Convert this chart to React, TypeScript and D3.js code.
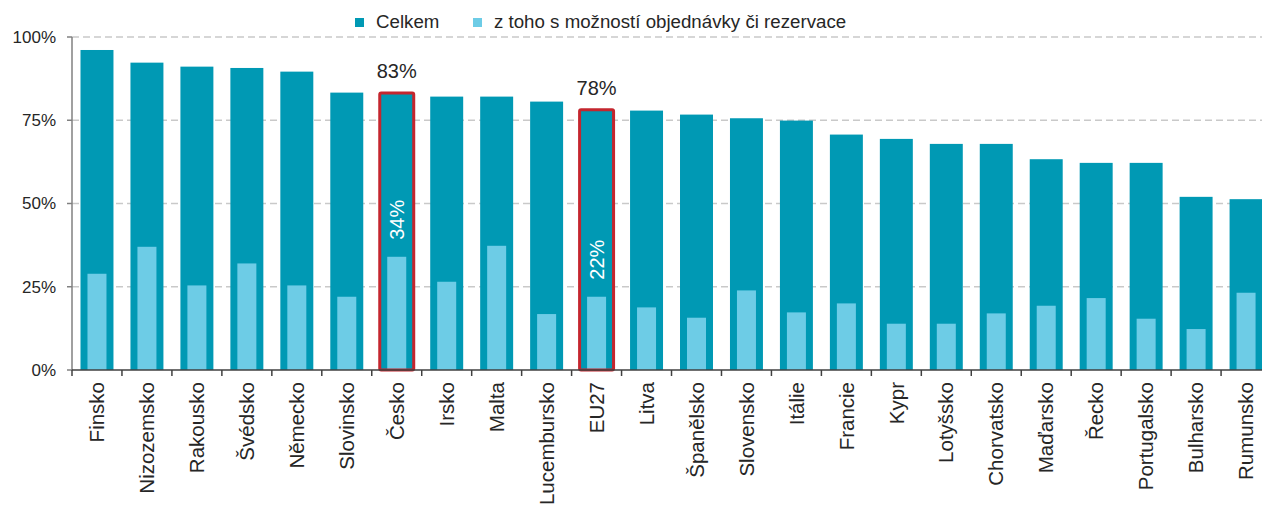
import React, { useEffect, useRef } from 'react';
import * as d3 from 'd3';

const countries = ['Finsko', 'Nizozemsko', 'Rakousko', 'Švédsko', 'Německo', 'Slovinsko', 'Česko', 'Irsko', 'Malta', 'Lucembursko', 'EU27', 'Litva', 'Španělsko', 'Slovensko', 'Itálie', 'Francie', 'Kypr', 'Lotyšsko', 'Chorvatsko', 'Maďarsko', 'Řecko', 'Portugalsko', 'Bulharsko', 'Rumunsko'];
const celkem = [96.1, 92.3, 91.1, 90.7, 89.6, 83.3, 83, 82.1, 82.1, 80.6, 78, 77.9, 76.7, 75.6, 74.9, 70.7, 69.4, 67.9, 67.9, 63.3, 62.2, 62.2, 52.0, 51.3];
const rezervace = [28.9, 37.0, 25.4, 32.0, 25.4, 22.0, 34, 26.5, 37.3, 16.8, 22, 18.8, 15.7, 23.9, 17.3, 20.0, 13.9, 13.9, 17.0, 19.3, 21.6, 15.4, 12.3, 23.2];
const highlighted = ['Česko', 'EU27'];
const yTicks = [0, 25, 50, 75, 100];
const seriesNames = ['Celkem', 'z toho s možností objednávky či rezervace'];

const dark = '#0099b4';
const light = '#6dcce6';
const red = '#c4262e';
const font = '"Liberation Sans", Arial, sans-serif';

export default function App() {
  const ref = useRef<SVGSVGElement>(null);

  useEffect(() => {
    const width = 1262, height = 509;
    const margin = { top: 37, left: 72, bottom: 139 };
    const step = 49.96;

    const svg = d3.select(ref.current);
    svg.selectAll('*').remove();
    svg.attr('width', width).attr('height', height);

    const data = countries.map((name, i) => ({ name, total: celkem[i], sub: rezervace[i] }));

    const x = d3.scaleBand()
      .domain(countries)
      .range([margin.left, margin.left + step * countries.length])
      .paddingInner(0.34)
      .paddingOuter(0.17);
    const y = d3.scaleLinear().domain([0, 100]).range([height - margin.bottom, margin.top]);
    const x0 = margin.left, y0 = y(0);

    // gridlines
    svg.append('g')
      .selectAll('line')
      .data(yTicks.filter(d => d > 0))
      .enter().append('line')
      .attr('x1', x0).attr('x2', width)
      .attr('y1', d => y(d)).attr('y2', d => y(d))
      .attr('stroke', '#c9c9c9')
      .attr('stroke-width', 1.5)
      .attr('stroke-dasharray', '7,4');

    // bars
    const bw = x.bandwidth();
    const ib = 19;
    svg.append('g').selectAll('rect')
      .data(data).enter().append('rect')
      .attr('x', d => x(d.name)!)
      .attr('y', d => y(d.total))
      .attr('width', bw)
      .attr('height', d => y0 - y(d.total))
      .attr('fill', dark);

    svg.append('g').selectAll('rect')
      .data(data).enter().append('rect')
      .attr('x', d => x(d.name)! + (bw - ib) / 2)
      .attr('y', d => y(d.sub))
      .attr('width', ib)
      .attr('height', d => y0 - y(d.sub))
      .attr('fill', light);

    // highlighted bars
    const hi = data.filter(d => highlighted.includes(d.name));
    const hg = svg.append('g');
    hg.selectAll('rect')
      .data(hi).enter().append('rect')
      .attr('x', d => x(d.name)! - 0.5)
      .attr('y', d => y(d.total) - 0.5)
      .attr('width', bw + 1)
      .attr('height', d => y0 - y(d.total) + 0.5)
      .attr('rx', 1.5)
      .attr('fill', 'none')
      .attr('stroke', red)
      .attr('stroke-width', 3);

    hg.selectAll('text.tot')
      .data(hi).enter().append('text')
      .attr('class', 'tot')
      .attr('x', d => x(d.name)! + bw / 2)
      .attr('y', d => y(d.total) - 15.5)
      .attr('text-anchor', 'middle')
      .attr('font-family', font)
      .attr('font-size', 20)
      .attr('fill', '#262626')
      .text(d => Math.round(d.total) + '%');

    hg.selectAll('text.sub')
      .data(hi).enter().append('text')
      .attr('class', 'sub')
      .attr('transform', d => `translate(${x(d.name)! + bw / 2},${y(d.sub) - 17}) rotate(-90)`)
      .attr('dy', '0.35em')
      .attr('text-anchor', 'start')
      .attr('font-family', font)
      .attr('font-size', 20)
      .attr('fill', '#ffffff')
      .text(d => Math.round(d.sub) + '%');

    // y axis
    const ya = svg.append('g');
    ya.append('line')
      .attr('x1', x0).attr('x2', x0)
      .attr('y1', y(100)).attr('y2', y0)
      .attr('stroke', '#808080').attr('stroke-width', 1.5);
    ya.selectAll('line.t')
      .data(yTicks).enter().append('line')
      .attr('class', 't')
      .attr('x1', x0 - 5).attr('x2', x0)
      .attr('y1', d => y(d)).attr('y2', d => y(d))
      .attr('stroke', '#808080').attr('stroke-width', 1.5);
    ya.selectAll('text')
      .data(yTicks).enter().append('text')
      .attr('x', 56)
      .attr('y', d => y(d))
      .attr('dy', '0.35em')
      .attr('text-anchor', 'end')
      .attr('font-family', font)
      .attr('font-size', 17)
      .attr('fill', '#262626')
      .text(d => d + '%');

    // x axis
    const xa = svg.append('g');
    xa.append('line')
      .attr('x1', x0).attr('x2', width)
      .attr('y1', y0).attr('y2', y0)
      .attr('stroke', '#404040').attr('stroke-width', 1.5);
    xa.selectAll('line.t')
      .data(countries).enter().append('line')
      .attr('class', 't')
      .attr('x1', d => x(d)! - x.step() * x.paddingInner() / 2)
      .attr('x2', d => x(d)! - x.step() * x.paddingInner() / 2)
      .attr('y1', y0).attr('y2', y0 + 6)
      .attr('stroke', '#404040').attr('stroke-width', 1.5);
    xa.selectAll('text')
      .data(countries).enter().append('text')
      .attr('transform', d => `translate(${x(d)! + bw / 2},${y0 + 12}) rotate(-90)`)
      .attr('dy', '0.35em')
      .attr('text-anchor', 'end')
      .attr('font-family', font)
      .attr('font-size', 20.5)
      .attr('fill', '#262626')
      .text(d => d);

    // legend
    const legend = [
      { name: seriesNames[0], color: dark, x: 355 },
      { name: seriesNames[1], color: light, x: 473 },
    ];
    const lg = svg.append('g').selectAll('g')
      .data(legend).enter().append('g')
      .attr('transform', d => `translate(${d.x},18)`);
    lg.append('rect').attr('width', 9).attr('height', 9).attr('fill', d => d.color);
    lg.append('text')
      .attr('x', 21).attr('y', 10)
      .attr('font-family', font)
      .attr('font-size', 18.7)
      .attr('fill', '#262626')
      .text(d => d.name);
  }, []);

  return (
    <div>
      <style>{'body{margin:0}'}</style>
      <svg ref={ref} style={{ display: 'block' }} />
    </div>
  );
}
